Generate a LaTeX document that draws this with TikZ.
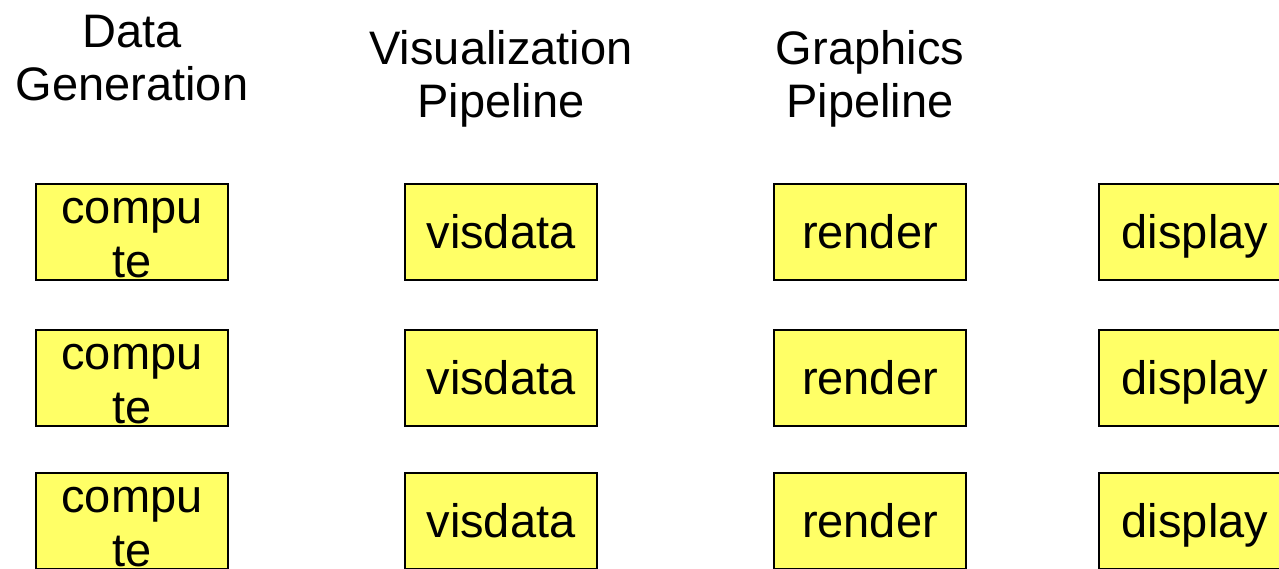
\documentclass[tikz,border=0pt]{standalone}
\usepackage{fontspec}
\setmainfont{Liberation Sans}
\definecolor{boxfill}{RGB}{255,255,102}
\begin{document}
\begin{tikzpicture}[x=1pt,y=-1pt,
  stagebox/.style={draw=black,fill=boxfill,line width=1.6pt,minimum width=192pt,minimum height=96pt,inner sep=0pt,
    font=\fontsize{47}{53}\selectfont,text height=34pt,text depth=2pt},
  txt/.style={inner sep=0pt,anchor=base,font=\fontsize{47}{53}\selectfont}]
\useasboundingbox (0,0) rectangle (1279,568);
\begin{scope}
\clip (0,0) rectangle (1279,568);
% titles
\node[txt] (t1a) at (132,47) {Data};
\node[txt] (t1b) at (132,100) {Generation};
\node[txt] (t2a) at (501,64) {Visualization};
\node[txt] (t2b) at (501,117) {Pipeline};
\node[txt] (t3a) at (870,64) {Graphics};
\node[txt] (t3b) at (870,117) {Pipeline};
% rows
\foreach \r/\y in {1/232,2/378,3/521}{
  \node[stagebox] (c\r) at (132,\y) {};
  \node[txt] (c\r a) at (132,\y-9) {compu};
  \node[txt] (c\r b) at (132,\y+45) {te};
  \node[stagebox] (v\r) at (501,\y) {visdata};
  \node[stagebox] (g\r) at (870,\y) {render};
  \node[stagebox] (d\r) at (1195,\y) {display};
}
\end{scope}
\end{tikzpicture}
\end{document}
